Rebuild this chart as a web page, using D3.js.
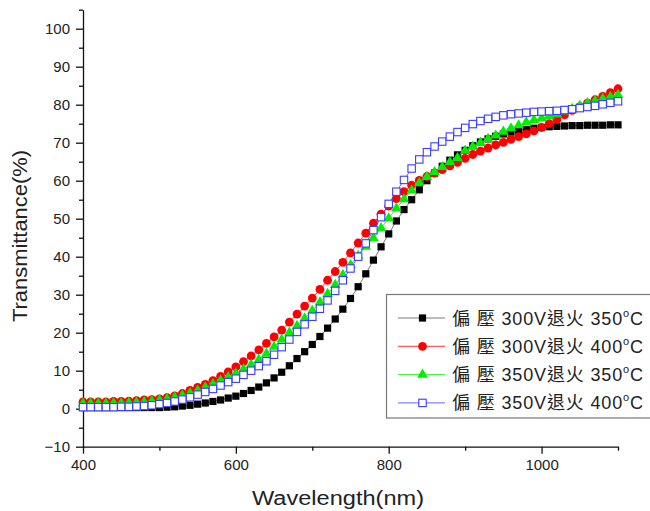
<!DOCTYPE html>
<html>
<head>
<meta charset="utf-8">
<script src="https://cdn.jsdelivr.net/npm/d3@7"></script>
<style>
  body { margin: 0; background: #fff; }
  svg { display: block; font-family: "Liberation Sans", Arial, "Noto Sans CJK TC", sans-serif; }
  .axis path, .axis line { stroke: #111; stroke-width: 1.3; }
  .axis text { font-size: 15px; fill: #222; font-family: "Liberation Sans", Arial, sans-serif; }
</style>
</head>
<body>
<svg width="650" height="511"></svg>
<script>
// wavelength grid (nm), one sample every 10 nm
var wavelengths = d3.range(400, 1101, 10);

var seriesNames = ["偏 壓 300V退火 350", "偏 壓 300V退火 400", "偏 壓 350V退火 350", "偏 壓 350V退火 400"];

// 300V / 350C (black squares)
var t300v350 = [
  0.3, 0.3, 0.3, 0.3, 0.3, 0.3, 0.3, 0.3, 0.3, 0.3,
  0.3, 0.4, 0.5, 0.7, 0.9, 1.2, 1.5, 1.9, 2.3, 2.8,
  3.3, 4.0, 4.8, 5.7, 6.8, 8.1, 9.6, 11.3, 13.2, 15.0,
  16.9, 19.0, 21.2, 23.6, 26.2, 29.0, 32.1, 35.5, 39.1, 42.6,
  46.0, 49.4, 52.4, 55.0, 57.6, 60.0, 62.0, 63.8, 65.4, 66.8,
  68.0, 69.2, 70.2, 71.0, 71.7, 72.3, 72.8, 73.2, 73.5, 73.8,
  74.0, 74.2, 74.3, 74.4, 74.5, 74.5, 74.6, 74.6, 74.6, 74.7,
  74.7
];

// 300V / 400C (red circles)
var t300v400 = [
  1.8, 1.8, 1.8, 1.8, 1.9, 1.9, 2.0, 2.1, 2.3, 2.4,
  2.6, 2.9, 3.4, 4.0, 4.8, 5.6, 6.4, 7.4, 8.5, 9.7,
  11.0, 12.4, 13.9, 15.5, 17.2, 18.9, 20.7, 22.8, 24.9, 27.0,
  29.1, 31.4, 33.8, 36.1, 38.5, 41.0, 43.6, 46.2, 48.8, 51.2,
  53.3, 55.3, 57.1, 58.8, 60.1, 61.1, 62.0, 62.9, 63.9, 64.8,
  65.9, 66.9, 67.8, 68.6, 69.4, 70.1, 70.9, 71.6, 72.3, 73.1,
  74.0, 75.0, 76.1, 77.3, 78.5, 79.5, 80.4, 81.3, 82.2, 83.2,
  84.2
];

// 350V / 350C (green triangles)
var t350v350 = [
  1.4, 1.4, 1.4, 1.4, 1.5, 1.5, 1.6, 1.7, 1.8, 2.0,
  2.3, 2.6, 3.0, 3.5, 4.1, 4.8, 5.6, 6.5, 7.4, 8.3,
  9.3, 10.4, 11.6, 12.9, 14.5, 16.3, 18.2, 20.0, 21.8, 23.8,
  25.8, 28.0, 30.2, 32.6, 35.2, 37.8, 40.2, 42.6, 44.9, 47.5,
  50.1, 52.7, 55.1, 57.4, 59.4, 61.0, 62.3, 63.6, 64.9, 66.0,
  67.9, 69.0, 70.0, 71.0, 71.9, 72.9, 73.8, 74.6, 75.4, 76.0,
  76.5, 77.0, 77.5, 78.2, 78.9, 79.7, 80.4, 81.0, 81.6, 82.1,
  82.6
];

// 350V / 400C (open blue squares)
var t350v400 = [
  0.4, 0.4, 0.4, 0.4, 0.4, 0.5, 0.5, 0.6, 0.7, 0.9,
  1.2, 1.5, 1.9, 2.4, 3.0, 3.7, 4.4, 5.2, 6.1, 7.0,
  7.9, 8.9, 10.0, 11.2, 12.5, 14.2, 16.2, 18.2, 20.2, 22.2,
  24.2, 26.3, 28.5, 31.0, 33.8, 36.9, 40.0, 43.5, 47.0, 50.4,
  53.9, 57.1, 60.2, 63.2, 65.6, 67.5, 69.0, 70.3, 71.6, 72.8,
  73.9, 74.9, 75.7, 76.3, 76.8, 77.2, 77.5, 77.7, 77.9, 78.1,
  78.2, 78.3, 78.4, 78.6, 78.8, 79.1, 79.4, 79.7, 80.1, 80.5,
  80.9
];

var xTicks = [400, 600, 800, 1000];
var xMinorTicks = [500, 700, 900, 1100];
var yTicks = [-10, 0, 10, 20, 30, 40, 50, 60, 70, 80, 90, 100];
var yMinorTicks = [-5, 5, 15, 25, 35, 45, 55, 65, 75, 85, 95, 105];

var svg = d3.select("svg");

var x = d3.scaleLinear().domain([400, 1100]).range([83, 618]);
var y = d3.scaleLinear().domain([-10, 105]).range([446.7, 9.7]);

// axes
svg.append("g")
  .attr("class", "axis")
  .attr("transform", "translate(0," + y(-10) + ")")
  .call(d3.axisBottom(x).tickValues(xTicks).tickSize(7).tickSizeOuter(0).tickPadding(6).tickFormat(d3.format("d")));

svg.append("g")
  .attr("class", "axis")
  .attr("transform", "translate(0," + y(-10) + ")")
  .call(d3.axisBottom(x).tickValues(xMinorTicks).tickSize(4).tickSizeOuter(0).tickFormat(""))
  .select(".domain").remove();

svg.append("g")
  .attr("class", "axis")
  .attr("transform", "translate(" + x(400) + ",0)")
  .call(d3.axisLeft(y).tickValues(yTicks).tickSize(7).tickSizeOuter(0).tickPadding(6));

svg.append("g")
  .attr("class", "axis")
  .attr("transform", "translate(" + x(400) + ",0)")
  .call(d3.axisLeft(y).tickValues(yMinorTicks).tickSize(4).tickSizeOuter(0).tickFormat(""))
  .select(".domain").remove();

// axis titles
svg.append("text")
  .attr("x", 338)
  .attr("y", 505)
  .attr("text-anchor", "middle")
  .style("font-size", "20px")
  .style("fill", "#222")
  .attr("textLength", 172)
  .attr("lengthAdjust", "spacingAndGlyphs")
  .text("Wavelength(nm)");

svg.append("text")
  .attr("transform", "translate(27,236) rotate(-90)")
  .attr("text-anchor", "middle")
  .style("font-size", "20px")
  .style("fill", "#222")
  .attr("textLength", 172)
  .attr("lengthAdjust", "spacingAndGlyphs")
  .text("Transmittance(%)");

// series setup
var series = [
  { name: seriesNames[0], values: t300v350, color: "#000", line: "#555", shape: "square" },
  { name: seriesNames[1], values: t300v400, color: "#ff0000", line: "#ff0000", shape: "circle" },
  { name: seriesNames[2], values: t350v350, color: "#00ee00", line: "#00ee00", shape: "triangle" },
  { name: seriesNames[3], values: t350v400, color: "#3b3bff", line: "#3b3bff", shape: "open" }
];

function drawMarker(sel, shape, color, scale) {
  if (shape === "square") {
    sel.append("rect").attr("x", -3.6 * scale).attr("y", -3.6 * scale)
      .attr("width", 7.2 * scale).attr("height", 7.2 * scale).attr("fill", color);
  } else if (shape === "circle") {
    sel.append("circle").attr("r", 4.4 * scale).attr("fill", color);
  } else if (shape === "triangle") {
    sel.append("path").attr("d", d3.symbol().type(d3.symbolTriangle).size(48 * scale * scale)())
      .attr("fill", color);
  } else {
    sel.append("rect").attr("x", -3.7 * scale).attr("y", -3.7 * scale)
      .attr("width", 7.4 * scale).attr("height", 7.4 * scale)
      .attr("fill", "#fff").attr("stroke", color).attr("stroke-width", 1.1);
  }
}

var line = d3.line()
  .x(function (d, i) { return x(wavelengths[i]); })
  .y(function (d) { return y(d); });

series.forEach(function (s) {
  svg.append("path")
    .datum(s.values)
    .attr("fill", "none")
    .attr("stroke", s.line)
    .attr("stroke-width", 0.8)
    .attr("d", line);

  svg.append("g").selectAll("g")
    .data(s.values)
    .enter().append("g")
    .attr("transform", function (d, i) { return "translate(" + x(wavelengths[i]) + "," + y(d) + ")"; })
    .each(function () { drawMarker(d3.select(this), s.shape, s.color, 1); });
});

// legend
var legend = svg.append("g");

legend.append("rect")
  .attr("x", 386.5)
  .attr("y", 294.5)
  .attr("width", 280)
  .attr("height", 123.5)
  .attr("fill", "#fff")
  .attr("stroke", "#777")
  .attr("stroke-width", 1.2);

series.forEach(function (s, i) {
  var cy = 318 + i * 28.3;
  var row = legend.append("g");

  row.append("line")
    .attr("x1", 398).attr("x2", 445)
    .attr("y1", cy).attr("y2", cy)
    .attr("stroke", s.line)
    .attr("stroke-width", 0.8);

  drawMarker(row.append("g").attr("transform", "translate(422.5," + cy + ")"), s.shape, s.color, 1);

  var label = row.append("text")
    .attr("x", 452)
    .attr("y", cy + 6.5)
    .style("font-size", "18px")
    .style("fill", "#222")
    .attr("textLength", 191)
    .attr("lengthAdjust", "spacing");

  label.append("tspan").text(s.name);
  label.append("tspan").attr("dy", -8).style("font-size", "11px").text("o");
  label.append("tspan").attr("dy", 8).text("C");
});
</script>
</body>
</html>
